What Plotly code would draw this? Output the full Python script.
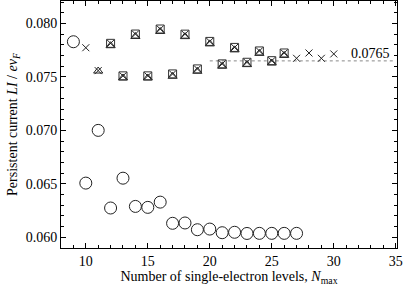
import plotly.graph_objects as go

circ_x = [9, 10, 11, 12, 13, 14, 15, 16, 17, 18, 19, 20, 21, 22, 23, 24, 25, 26, 27]
circ_y = [0.07829, 0.06507, 0.0700, 0.06274, 0.06553, 0.06289, 0.0628, 0.06329, 0.06131, 0.06134,
          0.06071, 0.06077, 0.06043, 0.06047, 0.06036, 0.06037, 0.06037, 0.06037, 0.06037]

cross_x = [10, 11, 12, 13, 14, 15, 16, 17, 18, 19, 20, 21, 22, 23, 24, 25, 26, 27, 28, 29, 30]
cross_y = [0.07773, 0.07559, 0.07814, 0.0751, 0.07901, 0.0751, 0.07948, 0.07528, 0.0790, 0.07575,
           0.07832, 0.07622, 0.07776, 0.07637, 0.07743, 0.07652, 0.07724, 0.07674, 0.07724, 0.07674, 0.07715]

sq_x = [12, 13, 14, 15, 16, 17, 18, 19, 20, 21, 22, 23, 24, 25, 26]
sq_y = [0.07814, 0.0751, 0.07901, 0.0751, 0.07948, 0.07528, 0.0790, 0.07575,
        0.07832, 0.07622, 0.07776, 0.07637, 0.07743, 0.07652, 0.07724]

tri_x = [11, 12, 13, 14, 15, 16, 17, 18, 19, 20, 21, 22, 23, 24, 25, 26]
tri_y = [0.07555, 0.07792, 0.07490, 0.07878, 0.07490, 0.07925, 0.07506, 0.07877, 0.07553,
         0.07809, 0.07600, 0.07753, 0.07615, 0.07720, 0.07630, 0.07701]

ref_value = 0.0765
ref_x = [20, 35]
ref_label = "0.0765"

font = "Liberation Serif, Times New Roman, serif"

fig = go.Figure()
fig.add_trace(go.Scatter(x=ref_x, y=[ref_value, ref_value], mode="lines",
                         line=dict(color="#888888", width=1, dash="dot"), showlegend=False))
fig.add_trace(go.Scatter(x=tri_x, y=tri_y, mode="markers",
                         marker=dict(symbol="triangle-up-open", size=8, color="#222222",
                                     line=dict(width=1, color="#222222")), showlegend=False))
fig.add_trace(go.Scatter(x=sq_x, y=sq_y, mode="markers",
                         marker=dict(symbol="square-open", size=8, color="#333333",
                                     line=dict(width=1, color="#333333")), showlegend=False))
fig.add_trace(go.Scatter(x=cross_x, y=cross_y, mode="markers",
                         marker=dict(symbol="x-thin-open", size=7, color="#222222",
                                     line=dict(width=1, color="#222222")), showlegend=False))
fig.add_trace(go.Scatter(x=circ_x, y=circ_y, mode="markers",
                         marker=dict(symbol="circle-open", size=12, color="#222222",
                                     line=dict(width=1, color="#222222")), showlegend=False))

fig.add_annotation(x=34.7, y=ref_value, text=ref_label, showarrow=False,
                   xanchor="right", yanchor="bottom", yshift=-2,
                   font=dict(family=font, size=14, color="black"))

axis_common = dict(showgrid=False, zeroline=False, showline=True, linecolor="black", linewidth=1,
                   mirror="allticks", ticks="inside", ticklen=5, tickcolor="black",
                   tickfont=dict(family=font, size=14, color="black"))

fig.update_xaxes(range=[8, 35.1], tickmode="linear", tick0=10, dtick=5,
                 minor=dict(ticks="inside", ticklen=3, dtick=1, tick0=0, tickcolor="black"),
                 title=dict(text="Number of single-electron levels, <i>N</i><sub>max</sub>",
                            font=dict(family=font, size=14, color="black"), standoff=0),
                 **axis_common)
fig.update_yaxes(range=[0.059, 0.0821], tickmode="linear", tick0=0.06, dtick=0.005, tickformat=".3f",
                 minor=dict(ticks="inside", ticklen=3, dtick=0.001, tick0=0.06, tickcolor="black"),
                 title=dict(text="Persistent current <i>LI</i> / <i>ev</i><sub><i>F</i></sub>",
                            font=dict(family=font, size=14, color="black"), standoff=4),
                 **axis_common)

fig.update_layout(width=415, height=286, margin=dict(l=61, r=18, t=1, b=38, autoexpand=False),
                  plot_bgcolor="white", paper_bgcolor="white")

fig.write_html("out.html", config={"displayModeBar": False},
               post_script="document.body.style.margin='0px';")
